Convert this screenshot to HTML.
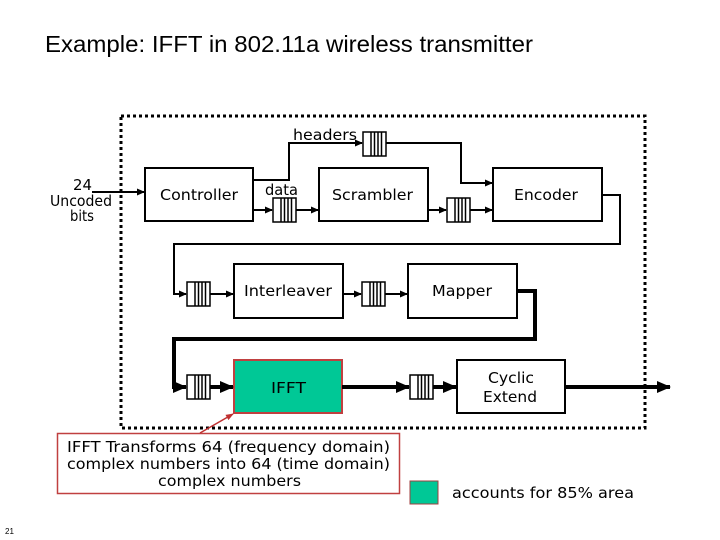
<!DOCTYPE html>
<html><head><meta charset="utf-8"><style>
html,body{margin:0;padding:0;background:#fff;}
svg{display:block;}
.t{font-family:"DejaVu Sans",sans-serif;font-size:15.5px;fill:#000;}
</style></head><body>
<svg width="720" height="540" viewBox="0 0 720 540" xmlns="http://www.w3.org/2000/svg">
<defs>
<marker id="a" markerWidth="8" markerHeight="8" refX="7" refY="4" orient="auto" markerUnits="userSpaceOnUse"><path d="M0,0.5 L8,4 L0,7.5 z" fill="#000"/></marker>
<marker id="b" markerWidth="14" markerHeight="14" refX="13" refY="7" orient="auto" markerUnits="userSpaceOnUse"><path d="M0,1 L14,7 L0,13 z" fill="#000"/></marker>
<marker id="r" markerWidth="8" markerHeight="8" refX="7" refY="4" orient="auto" markerUnits="userSpaceOnUse"><path d="M0,1 L8,4 L0,7 z" fill="#c03030"/></marker>
<g id="q"><rect x="0" y="0" width="23" height="24" fill="#fff" stroke="#000" stroke-width="1.5"/><path d="M8,0V24M11.5,0V24M15,0V24M18.5,0V24" stroke="#000" stroke-width="1.5"/></g>
</defs>
<text x="45" y="52" font-family="Liberation Sans,sans-serif" font-size="23" textLength="488" lengthAdjust="spacingAndGlyphs">Example: IFFT in 802.11a wireless transmitter</text>
<rect x="121" y="116" width="524" height="312" fill="none" stroke="#000" stroke-width="3" stroke-dasharray="3,3"/>
<g lengthAdjust="spacingAndGlyphs">
<text class="t" x="73" y="190" textLength="19" lengthAdjust="spacingAndGlyphs">24</text>
<text class="t" x="50" y="206" font-size="14" textLength="62" lengthAdjust="spacingAndGlyphs">Uncoded</text>
<text class="t" x="70" y="221" font-size="14" textLength="24" lengthAdjust="spacingAndGlyphs">bits</text>
</g>
<line x1="92" y1="192" x2="144" y2="192" stroke="#000" stroke-width="2" marker-end="url(#a)"/>
<g fill="#fff" stroke="#000" stroke-width="2">
<rect x="145" y="168" width="108" height="53"/>
<rect x="319" y="168" width="109" height="53"/>
<rect x="493" y="168" width="109" height="53"/>
<rect x="234" y="264" width="109" height="54"/>
<rect x="408" y="264" width="109" height="54"/>
<rect x="457" y="360" width="108" height="53"/>
</g>
<rect x="234" y="360" width="108" height="53" fill="#00c896" stroke="#c04040" stroke-width="2"/>
<text class="t" x="160" y="200" textLength="78" lengthAdjust="spacingAndGlyphs">Controller</text>
<text class="t" x="332" y="200" textLength="81" lengthAdjust="spacingAndGlyphs">Scrambler</text>
<text class="t" x="514" y="200" textLength="64" lengthAdjust="spacingAndGlyphs">Encoder</text>
<text class="t" x="244" y="296" textLength="88" lengthAdjust="spacingAndGlyphs">Interleaver</text>
<text class="t" x="432" y="296" textLength="60" lengthAdjust="spacingAndGlyphs">Mapper</text>
<text class="t" x="271" y="393" textLength="35" lengthAdjust="spacingAndGlyphs">IFFT</text>
<text class="t" x="488" y="383" textLength="46" lengthAdjust="spacingAndGlyphs">Cyclic</text>
<text class="t" x="483" y="402" textLength="54" lengthAdjust="spacingAndGlyphs">Extend</text>
<text class="t" x="293" y="140" textLength="64" lengthAdjust="spacingAndGlyphs">headers</text>
<text class="t" x="265" y="195" textLength="33" lengthAdjust="spacingAndGlyphs">data</text>
<g fill="none" stroke="#000" stroke-width="2">
<polyline points="253,180 289,180 289,143 362,143" marker-end="url(#a)"/>
<polyline points="386,143 461,143 461,183 492,183" marker-end="url(#a)"/>
<line x1="253" y1="210" x2="272" y2="210" marker-end="url(#a)"/>
<line x1="296" y1="210" x2="318" y2="210" marker-end="url(#a)"/>
<line x1="428" y1="210" x2="446" y2="210" marker-end="url(#a)"/>
<line x1="470" y1="210" x2="492" y2="210" marker-end="url(#a)"/>
<polyline points="602,195 620,195 620,244 174,244 174,294 186,294" marker-end="url(#a)"/>
<line x1="210" y1="294" x2="233" y2="294" marker-end="url(#a)"/>
<line x1="343" y1="294" x2="361" y2="294" marker-end="url(#a)"/>
<line x1="385" y1="294" x2="407" y2="294" marker-end="url(#a)"/>
</g>
<g fill="none" stroke="#000" stroke-width="4">
<polyline points="517,291 535,291 535,339 174,339 174,387 186,387" marker-end="url(#b)"/>
<line x1="210" y1="387" x2="233" y2="387" marker-end="url(#b)"/>
<line x1="342" y1="387" x2="409" y2="387" marker-end="url(#b)"/>
<line x1="433" y1="387" x2="456" y2="387" marker-end="url(#b)"/>
<line x1="565" y1="387" x2="670" y2="387" marker-end="url(#b)"/>
</g>
<use href="#q" x="363" y="132"/>
<use href="#q" x="273" y="198"/>
<use href="#q" x="447" y="198"/>
<use href="#q" x="187" y="282"/>
<use href="#q" x="362" y="282"/>
<use href="#q" x="187" y="375"/>
<use href="#q" x="410" y="375"/>
<rect x="57.5" y="433.5" width="342" height="60" fill="#fff" stroke="#c04040" stroke-width="1.5"/>
<line x1="200" y1="433" x2="233" y2="414" stroke="#c03030" stroke-width="1.5" marker-end="url(#r)"/>
<text class="t" x="67" y="452" textLength="323" lengthAdjust="spacingAndGlyphs">IFFT Transforms 64 (frequency domain)</text>
<text class="t" x="67" y="469" textLength="323" lengthAdjust="spacingAndGlyphs">complex numbers into 64 (time domain)</text>
<text class="t" x="158" y="486" textLength="143" lengthAdjust="spacingAndGlyphs">complex numbers</text>
<rect x="410" y="481" width="28" height="23" fill="#00c896" stroke="#a04040" stroke-width="1"/>
<text class="t" x="452" y="498" textLength="182" lengthAdjust="spacingAndGlyphs">accounts for 85% area</text>
<text x="5" y="534" font-family="Liberation Sans,sans-serif" font-size="8">21</text>
</svg>
</body></html>
